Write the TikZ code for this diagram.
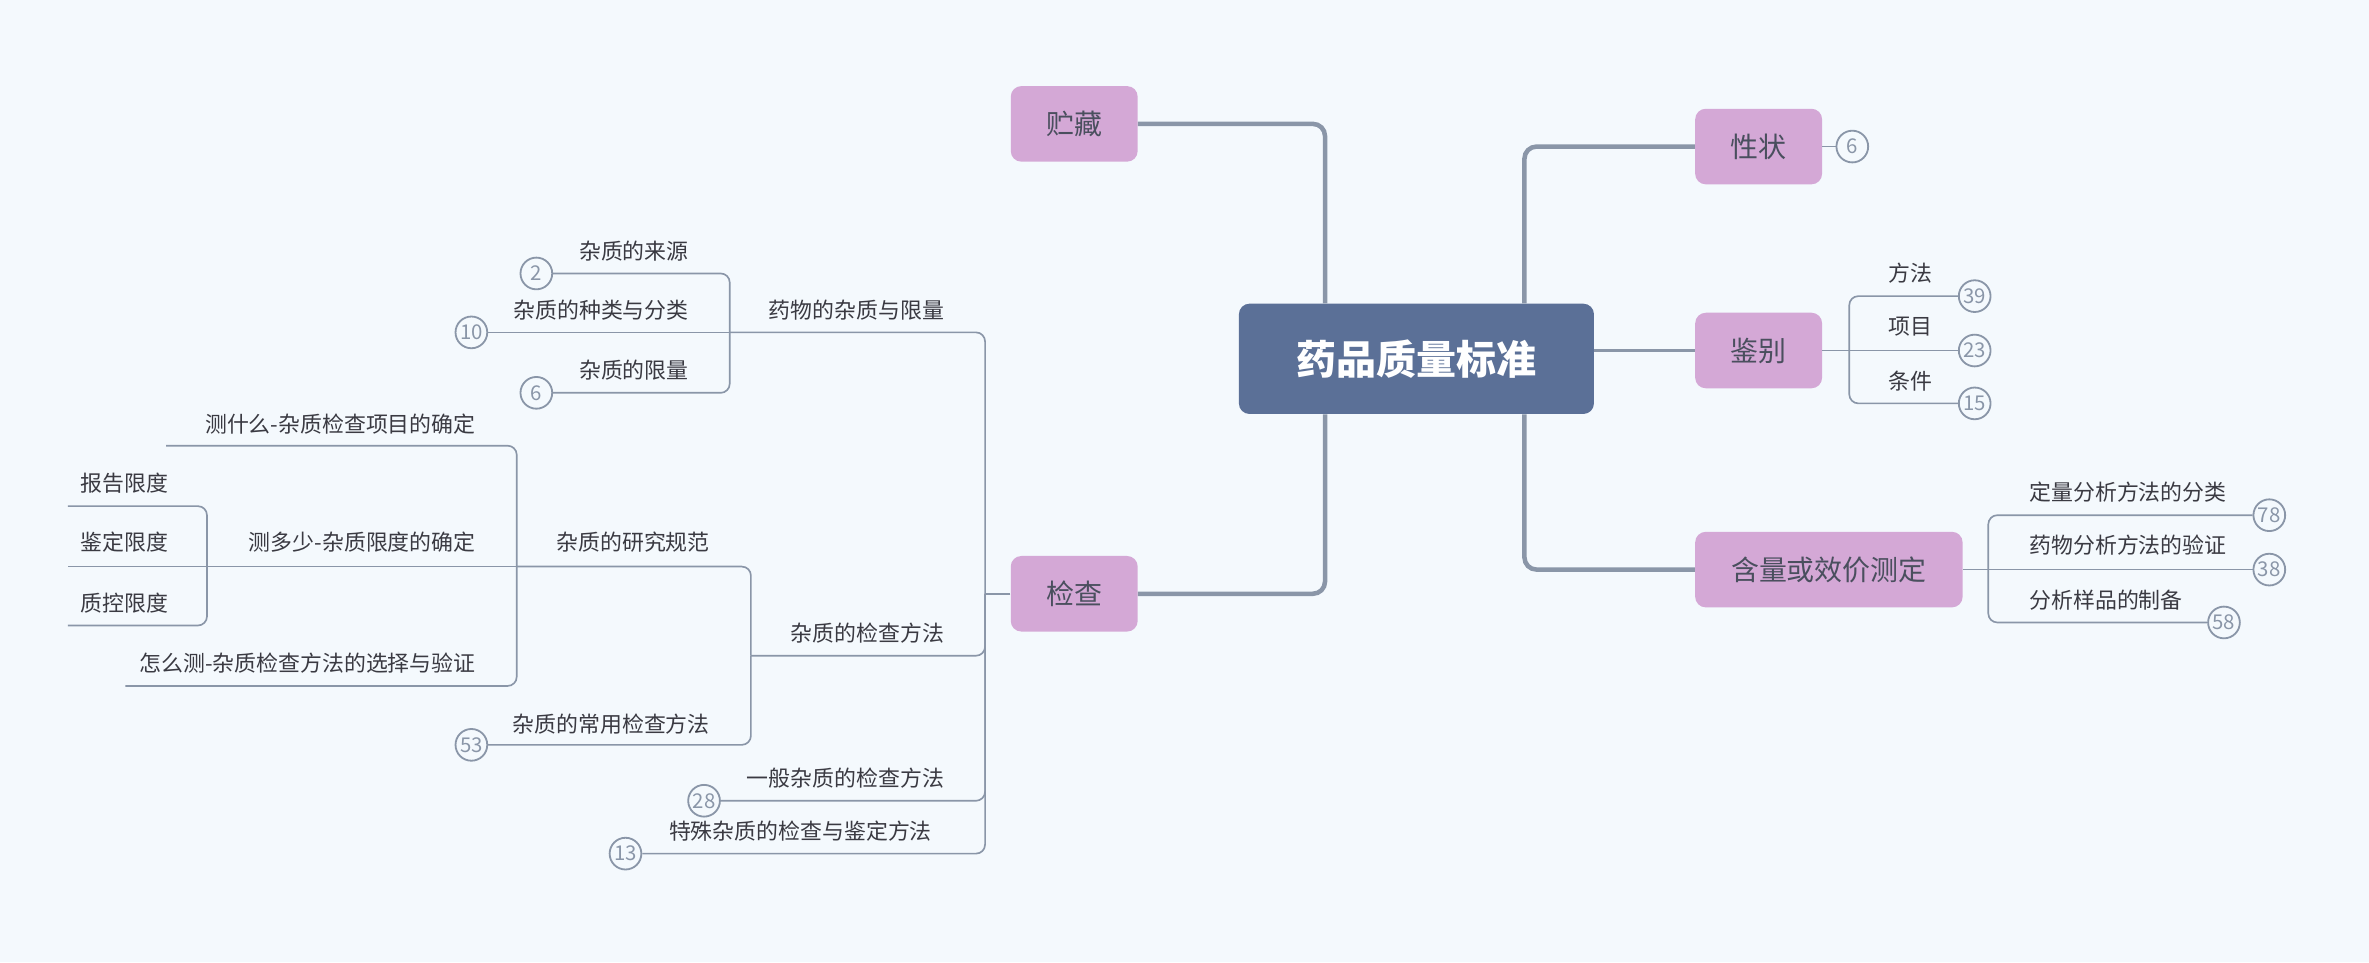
\documentclass[tikz,border=0pt]{standalone}
\usepackage{fontspec}
\setmainfont{Noto Sans CJK SC}
\definecolor{bg}{HTML}{F4F9FD}
\definecolor{rootc}{HTML}{5B7097}
\definecolor{pinkc}{HTML}{D4A8D6}
\definecolor{linec}{HTML}{8A96A8}
\definecolor{txt}{HTML}{3A3A42}
\definecolor{ptxt}{HTML}{4A4F5E}
\begin{document}
\begin{tikzpicture}[x=1pt,y=-1pt,
  rootnode/.style={fill=rootc, rounded corners=7pt, minimum width=235pt, minimum height=73pt, inner sep=0pt, text=white, font=\fontsize{26.5}{28}\selectfont\bfseries},
  topic/.style={fill=pinkc, rounded corners=7pt, minimum width=84pt, minimum height=50pt, inner sep=0pt, text=ptxt, font=\fontsize{18.5}{20}\selectfont},
  lbl/.style={inner sep=0pt, text=txt, font=\fontsize{14.5}{16}\selectfont},
  cnt/.style={circle, draw=linec, line width=1.2pt, fill=bg, minimum size=21pt, inner sep=0pt, text=linec, font=\fontsize{13.5}{13.5}\selectfont},
  thinl/.style={draw=linec, line width=1.1pt, rounded corners=6pt},
  midl/.style={draw=linec, line width=1.4pt},
  thickl/.style={draw=linec, line width=3pt, rounded corners=8pt}]
\useasboundingbox (0,0) rectangle (1568,637);
\fill[bg] (0,0) rectangle (1568,637);

% main nodes
\node[rootnode] (root) at (937.5,237.5) {药品质量标准};
\node[topic] (zc) at (711,82) {贮藏};
\node[topic] (jc) at (711,393) {检查};
\node[topic] (xz) at (1164,97) {性状};
\node[topic] (jb) at (1164,232) {鉴别};
\node[topic, minimum width=177pt] (hl) at (1210.5,377) {含量或效价测定};

\coordinate (ltx) at (877,0);
\coordinate (rtx) at (1009,0);
\coordinate (jbin) at (1055,232);
\draw[thickl] (zc.east) -| (root.north -| ltx);
\draw[thickl] (jc.east) -| (root.south -| ltx);
\draw[thickl] (root.north -| rtx) |- (xz.west);
\draw[thickl] (root.south -| rtx) |- (hl.west);
\draw[midl] (jbin) -- (jb.west);

% 性状
\node[cnt] (n6a) at (1226,97) {6};
\draw[thinl] (xz.east) -- (n6a.west);

% 鉴别 children
\coordinate (jbb) at (1224,232);
\node[cnt] (n39) at (1307,196) {39};
\node[cnt] (n23) at (1307,232) {23};
\node[cnt] (n15) at (1307,267) {15};
\node[lbl, anchor=west] (ff) at (1250,181) {方法};
\node[lbl, anchor=west] (xm) at (1250,216) {项目};
\node[lbl, anchor=west] (tj) at (1250,252) {条件};
\draw[thinl] (jb.east) -- (jbb);
\draw[thinl] (jbb) |- (n39.west);
\draw[thinl] (jbb) -- (n23.west);
\draw[thinl] (jbb) |- (n15.west);

% 含量 children
\coordinate (hlb) at (1316,377);
\node[cnt] (n78) at (1502,341) {78};
\node[cnt] (n38) at (1502,377) {38};
\node[cnt] (n58) at (1472,412) {58};
\node[lbl, anchor=west] (dl) at (1343,326) {定量分析方法的分类};
\node[lbl, anchor=west] (yw) at (1343,361) {药物分析方法的验证};
\node[lbl, anchor=west] (fx) at (1343,397) {分析样品的制备};
\draw[thinl] (hl.east) -- (hlb);
\draw[thinl] (hlb) |- (n78.west);
\draw[thinl] (hlb) -- (n38.west);
\draw[thinl] (hlb) |- (n58.west);

% 检查 children
\coordinate (jcb) at (652,393);
\coordinate (b1) at (483,220);
\coordinate (b2) at (497,434);
\coordinate (b3) at (342,375);
\coordinate (b4) at (137,375);
\node[cnt] (n28) at (466,530) {28};
\node[cnt] (n13) at (414,565) {13};
\node[lbl, anchor=east] (l1) at (625,205) {药物的杂质与限量};
\node[lbl, anchor=east] (l2) at (625,419) {杂质的检查方法};
\node[lbl, anchor=east] (l3) at (625,515) {一般杂质的检查方法};
\node[lbl, anchor=east] (l4) at (617,550) {特殊杂质的检查与鉴定方法};
\draw[thinl] (jc.west) -- (jcb);
\draw[thinl] (jcb) |- (b1);
\draw[thinl] (jcb) |- (b2);
\draw[thinl] (jcb) |- (n28.east);
\draw[thinl] (jcb) |- (n13.east);

% 药物的杂质与限量 children
\node[cnt] (n2) at (355,181) {2};
\node[cnt] (n10) at (312,220) {10};
\node[cnt] (n6b) at (355,260) {6};
\node[lbl, anchor=east] (l11) at (456,166) {杂质的来源};
\node[lbl, anchor=east] (l12) at (456,205) {杂质的种类与分类};
\node[lbl, anchor=east] (l13) at (456,245) {杂质的限量};
\draw[thinl] (b1) |- (n2.east);
\draw[thinl] (b1) -- (n10.east);
\draw[thinl] (b1) |- (n6b.east);

% 杂质的检查方法 children
\node[cnt] (n53) at (312,493) {53};
\node[lbl, anchor=east] (l21) at (470,359) {杂质的研究规范};
\node[lbl, anchor=east] (l22) at (470,479) {杂质的常用检查方法};
\draw[thinl] (b2) |- (b3);
\draw[thinl] (b2) |- (n53.east);

% 杂质的研究规范 children
\coordinate (e1) at (110,295);
\coordinate (e3) at (83,454);
\node[lbl, anchor=east] (l31) at (315,281) {测什么-杂质检查项目的确定};
\node[lbl, anchor=east] (l32) at (315,359) {测多少-杂质限度的确定};
\node[lbl, anchor=east] (l33) at (315,439) {怎么测-杂质检查方法的选择与验证};
\draw[thinl] (b3) |- (e1);
\draw[thinl] (b3) -- (b4);
\draw[thinl] (b3) |- (e3);

% 测多少 children
\coordinate (f1) at (45,335);
\coordinate (f2) at (45,375);
\coordinate (f3) at (45,414);
\node[lbl, anchor=west] (l41) at (53,320) {报告限度};
\node[lbl, anchor=west] (l42) at (53,359) {鉴定限度};
\node[lbl, anchor=west] (l43) at (53,399) {质控限度};
\draw[thinl] (b4) |- (f1);
\draw[thinl] (b4) -- (f2);
\draw[thinl] (b4) |- (f3);
\end{tikzpicture}
\end{document}
